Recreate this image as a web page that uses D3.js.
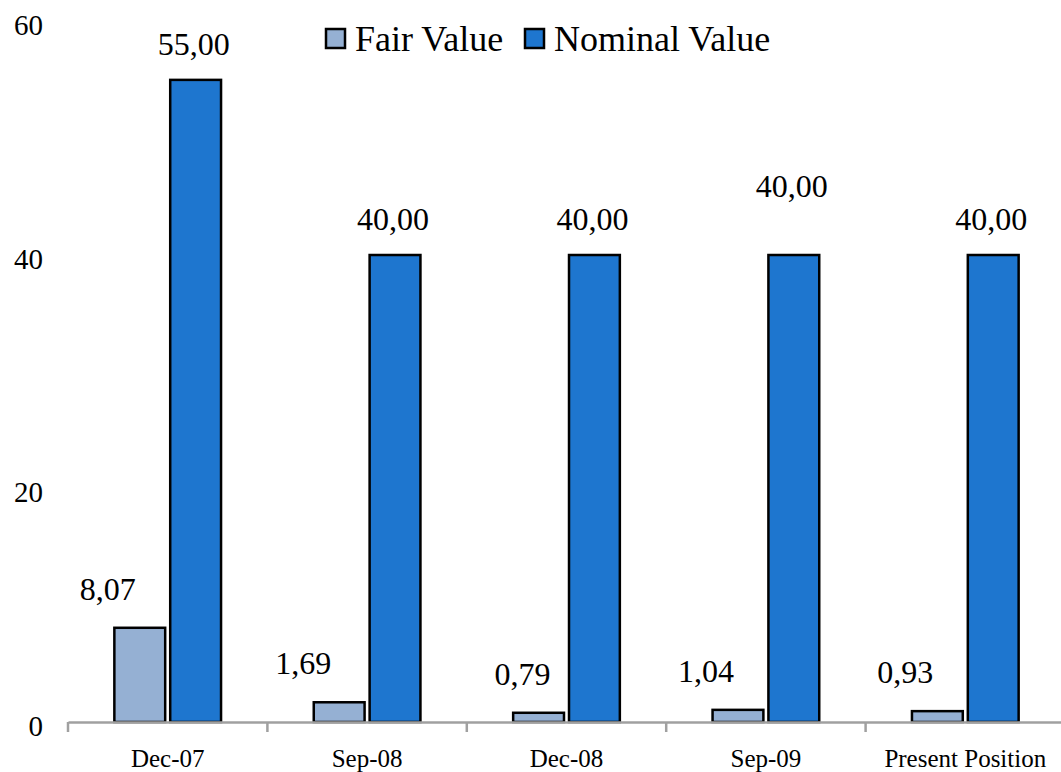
<!DOCTYPE html>
<html>
<head>
<meta charset="utf-8">
<script src="https://cdn.jsdelivr.net/npm/d3@7"></script>
<style>
  body { margin: 0; background: #fff; }
</style>
</head>
<body>
<svg width="1061" height="772"></svg>
<script>
var categories = ["Dec-07", "Sep-08", "Dec-08", "Sep-09", "Present Position"];
var seriesNames = ["Fair Value", "Nominal Value"];
var fairValue = [8.07, 1.69, 0.79, 1.04, 0.93];
var nominalValue = [55.00, 40.00, 40.00, 40.00, 40.00];
var yTicks = [0, 20, 40, 60];

var FONT = "Liberation Serif";
var colors = {"Fair Value": "#95b0d3", "Nominal Value": "#1e76cf"};
// Excel-style label nudges [dx, dy] for the odd placements in the original
var labelShift = {
    "Sep-08": {"Fair Value": [-4, 0]},
    "Dec-08": {"Fair Value": [16, 0]},
    "Sep-09": {"Nominal Value": [0, -33]}
};

var svg = d3.select("svg");
var padding = {top: 21.5, right: -4, left: 68, bottom: 50};
var chartArea = {
    width: 1061 - padding.left - padding.right,
    height: 772 - padding.top - padding.bottom
};

var data = categories.map(function(c, i) {
    return {category: c, values: [
        {series: "Fair Value", value: fairValue[i]},
        {series: "Nominal Value", value: nominalValue[i]}
    ]};
});

var x0 = d3.scaleBand().domain(categories).range([0, chartArea.width]).paddingInner(0).paddingOuter(0);
var x1 = d3.scaleBand().domain(seriesNames).range([0, x0.bandwidth()]).paddingInner(0.09).paddingOuter(0.83);
var y = d3.scaleLinear().domain([0, 60]).range([chartArea.height, 0]);

var g = svg.append("g").attr("transform", "translate(" + padding.left + "," + padding.top + ")");

// y tick labels (no axis line in the original)
g.selectAll(".ylab").data(yTicks).enter()
    .append("text")
    .attr("x", -25)
    .attr("y", function(d) { return y(d) + 13.5; })
    .attr("text-anchor", "end")
    .style("font-family", FONT)
    .style("font-size", "29px")
    .text(function(d) { return d; });

// bars
var groups = g.selectAll(".grp").data(data).enter()
    .append("g")
    .attr("transform", function(d) { return "translate(" + x0(d.category) + ",0)"; });

groups.selectAll("rect").data(function(d) { return d.values; }).enter()
    .append("rect")
    .attr("x", function(d) { return x1(d.series); })
    .attr("y", function(d) { return y(d.value); })
    .attr("width", x1.bandwidth())
    .attr("height", function(d) { return chartArea.height - y(d.value); })
    .attr("fill", function(d) { return colors[d.series]; })
    .attr("stroke", "#000")
    .attr("stroke-width", 2.5);

// value labels
groups.selectAll(".val").data(function(d) {
        return d.values.map(function(v) { return {category: d.category, series: v.series, value: v.value}; });
    }).enter()
    .append("text")
    .attr("x", function(d) {
        var s = labelShift[d.category] && labelShift[d.category][d.series] || [0, 0];
        return x1(d.series) + x1.bandwidth() / 2 + (d.series === "Fair Value" ? -32 : -2) + s[0];
    })
    .attr("y", function(d) {
        var s = labelShift[d.category] && labelShift[d.category][d.series] || [0, 0];
        return y(d.value) - (d.series === "Fair Value" ? 28 : 25) + s[1];
    })
    .attr("text-anchor", "middle")
    .style("font-family", FONT)
    .style("font-size", "32px")
    .text(function(d) { return d.value.toFixed(2).replace(".", ","); });

// x axis
var xAxis = g.append("g")
    .attr("transform", "translate(0," + chartArea.height + ")")
    .call(d3.axisBottom(x0).tickSizeInner(0).tickSizeOuter(0).tickPadding(27));
xAxis.select(".domain").attr("stroke", "#a0a0a0").attr("stroke-width", 2.5);
xAxis.selectAll("text")
    .style("font-size", "25px")
    .style("font-family", FONT)
    .attr("fill", "#000");
g.selectAll(".xtick").data(categories).enter()
    .append("line")
    .attr("x1", function(d) { return x0(d); })
    .attr("x2", function(d) { return x0(d); })
    .attr("y1", chartArea.height)
    .attr("y2", chartArea.height + 10)
    .attr("stroke", "#a0a0a0")
    .attr("stroke-width", 2.5);

// legend
var legend = svg.append("g").attr("transform", "translate(325,38)");
var legendX = [0, 199];
seriesNames.forEach(function(s, i) {
    var lg = legend.append("g").attr("transform", "translate(" + legendX[i] + ",0)");
    lg.append("rect")
        .attr("x", 1).attr("y", -9)
        .attr("width", 19).attr("height", 19)
        .attr("fill", colors[s])
        .attr("stroke", "#000")
        .attr("stroke-width", 2.5);
    lg.append("text")
        .attr("x", 30)
        .attr("y", 13)
        .style("font-family", FONT)
        .style("font-size", "36px")
        .text(s);
});
</script>
</body>
</html>
